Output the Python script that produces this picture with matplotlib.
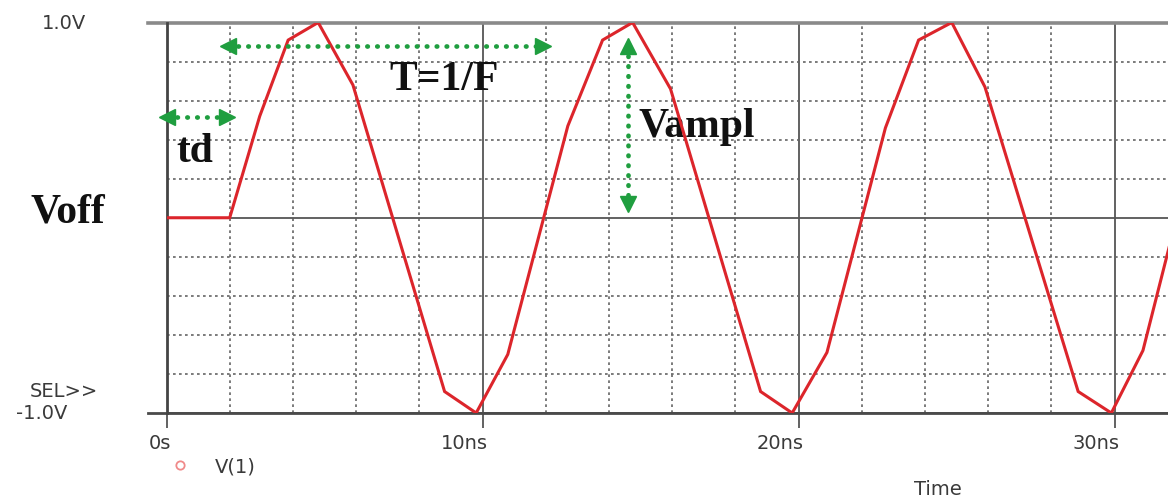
import matplotlib
matplotlib.use("Agg")
import matplotlib.pyplot as plt
from matplotlib.lines import Line2D
from matplotlib.ticker import MultipleLocator
from matplotlib import transforms

# trace vertices (time in ns, volts)
time_ns = [0, 2.0, 2.95, 3.85, 4.8, 5.9, 8.8, 9.8, 10.8, 12.7, 13.8, 14.75, 15.95,
           18.8, 19.8, 20.9, 22.75, 23.8, 24.85, 25.9, 28.85, 29.9, 30.9, 32.7]
volts = [0, 0, 0.52, 0.91, 1.0, 0.68, -0.89, -1.0, -0.70, 0.47, 0.91, 1.0, 0.66,
         -0.89, -1.0, -0.69, 0.46, 0.91, 1.0, 0.67, -0.89, -1.0, -0.68, 0.47]

x_ticks = [0, 10, 20, 30]
x_labels = ["0s", "10ns", "20ns", "30ns"]

W, H = 1168, 502
fig = plt.figure(figsize=(W / 100, H / 100), dpi=100)
ax = fig.add_axes([166.5 / W, 88 / H, 1 - 166.5 / W, 390.5 / H])
ax.set_xlim(0, (W - 166.5) / 31.6)
ax.set_ylim(-1, 1)

for s in ax.spines.values():
    s.set_visible(False)

grid_col = "#555555"
ax.xaxis.set_major_locator(MultipleLocator(10))
ax.xaxis.set_minor_locator(MultipleLocator(2))
ax.yaxis.set_major_locator(MultipleLocator(1))
ax.yaxis.set_minor_locator(MultipleLocator(0.2))
ax.grid(which="major", color=grid_col, lw=1.3, ls="-")
ax.grid(which="minor", color="#656565", lw=1.2, ls=(0, (1.6, 2.0)))
ax.set_axisbelow(True)
ax.tick_params(axis="x", which="major", length=11, width=1.3, color=grid_col,
               direction="out", labelbottom=False)
ax.tick_params(axis="x", which="minor", length=0)
ax.tick_params(axis="y", which="both", length=0, labelleft=False)

# frame lines: top/bottom stick out a little on the left
ax.axhline(1.0, xmin=-0.018, xmax=1, color="#8a8a8a", lw=2.6, clip_on=False)
ax.axhline(-1.0, xmin=-0.018, xmax=1, color="#4a4a4a", lw=2.0, clip_on=False)
ax.axvline(0, color="#444444", lw=2.0, clip_on=False)

ax.plot(time_ns, volts, color="#dc252b", lw=2.2, solid_joinstyle="miter", zorder=5)

# axis labels
lab = dict(fontsize=14, color="#3a3a3a", family="DejaVu Sans")
tr = transforms.offset_copy(transforms.blended_transform_factory(ax.transData, fig.transFigure),
                            fig=fig, x=5, y=0, units="dots")
for xt, lb in zip(x_ticks, x_labels):
    ax.text(xt, 1 - 444 / H, lb, transform=tr, ha="right", va="center", **lab)

ytr = transforms.blended_transform_factory(fig.transFigure, ax.transData)
ax.text(64 / W, 1.0, "1.0V", transform=ytr, ha="center", va="center", **lab)
ax.text(42 / W, -1.0, "-1.0V", transform=ytr, ha="center", va="center", **lab)
ax.text(64 / W, -0.883, "SEL>>", transform=ytr, ha="center", va="center", **lab)
fig.text(938 / W, 1 - 490 / H, "Time", ha="center", va="center", **lab)

handle = Line2D([], [], marker="o", ls="none", mfc="none", mec="#f08a8a", ms=6, mew=1.3)
ax.legend([handle], ["V(1)"], loc="center left", bbox_to_anchor=(170 / W, 1 - 467 / H),
          bbox_transform=fig.transFigure, frameon=False, borderpad=0, borderaxespad=0,
          handlelength=1.0, handletextpad=1.3, prop={"size": 14, "family": "DejaVu Sans"},
          labelcolor="#3a3a3a")

# green annotation arrows
green = "#1f9e3f"


def dotted_arrow(x0, y0, x1, y1, start_mk, end_mk):
    ax.plot([x0, x1], [y0, y1], color=green, lw=3.4, ls=(0, (0.1, 2.0)),
            dash_capstyle="round", clip_on=False, zorder=6)
    ax.plot([x0], [y0], marker=start_mk, color=green, ms=12, ls="none", clip_on=False, zorder=6)
    ax.plot([x1], [y1], marker=end_mk, color=green, ms=12, ls="none", clip_on=False, zorder=6)


dotted_arrow(0.0, 0.515, 1.9, 0.515, "<", ">")
dotted_arrow(1.95, 0.878, 11.9, 0.878, "<", ">")
dotted_arrow(14.6, 0.88, 14.6, 0.07, "^", "v")

serif = dict(family="Liberation Serif", weight="bold", color="#111111", fontsize=30)
ax.text(-3.13, 0.03, "Voff", ha="center", va="center", clip_on=False, **serif)
ax.text(0.9, 0.34, "td", ha="center", va="center", **serif)
ax.text(8.78, 0.71, "T=1/F", ha="center", va="center", **serif)
ax.text(16.78, 0.47, "Vampl", ha="center", va="center", **serif)

fig.savefig("out.png", dpi=100)
